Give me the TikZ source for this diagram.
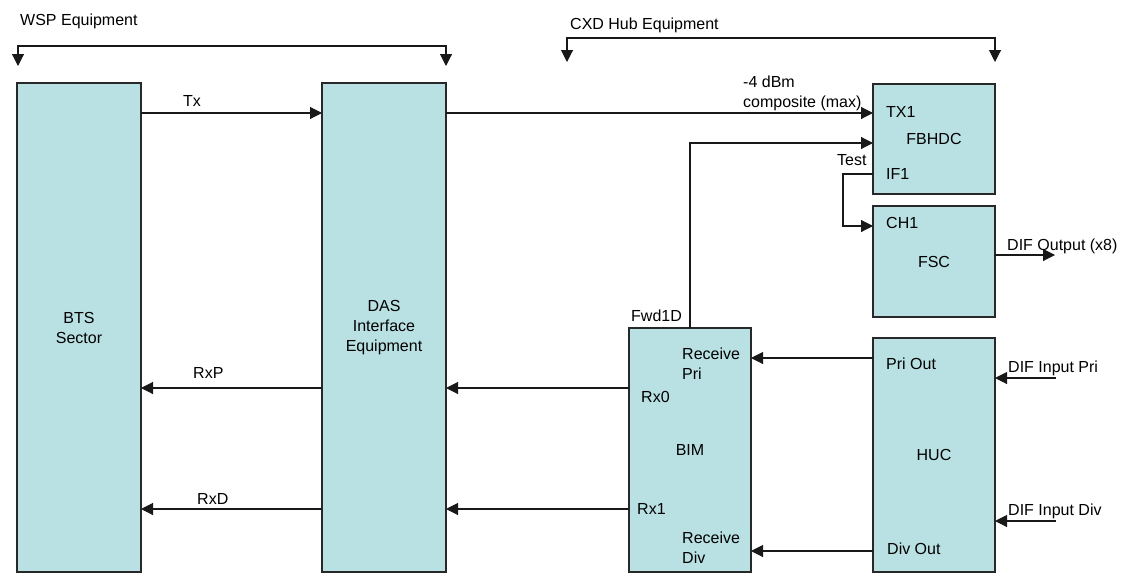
\documentclass[tikz,border=0pt]{standalone}
\usepackage{fontspec}
\setmainfont{Liberation Sans}
\usetikzlibrary{arrows.meta}
\definecolor{boxfill}{RGB}{185,224,227}
\definecolor{boxline}{RGB}{40,40,40}
\definecolor{wire}{RGB}{25,25,25}
\begin{document}
\begin{tikzpicture}[x=1pt,y=-1pt,
  font=\fontsize{16}{20}\selectfont,
  box/.style={draw=boxline, fill=boxfill, line width=1.1pt, inner sep=0pt, outer sep=0pt, anchor=north west, align=center},
  arr/.style={line width=1.1pt, draw=wire, -{Triangle[length=12pt,width=12pt]}},
  brk/.style={line width=1.1pt, draw=wire, {Triangle[length=12pt,width=12pt]}-{Triangle[length=12pt,width=12pt]}},
  lbl/.style={anchor=base west, inner sep=0pt, align=left}]
\useasboundingbox (0,0) rectangle (1138,573);

% boxes
\node[box, minimum width=124pt, minimum height=489pt] (bts) at (17,83) {BTS\\Sector};
\node[box, minimum width=124pt, minimum height=489pt] (das) at (322,83) {DAS\\Interface\\Equipment};
\node[box, minimum width=122pt, minimum height=110pt] (fbhdc) at (873,84) {FBHDC};
\node[box, minimum width=122pt, minimum height=111pt] (fsc) at (873,206) {FSC};
\node[box, minimum width=122pt, minimum height=244pt] (bim) at (629,328) {BIM};
\node[box, minimum width=122pt, minimum height=234pt] (huc) at (873,338) {HUC};

% level coordinates
\coordinate (yTx) at (0,113);
\coordinate (yFwd) at (0,143);
\coordinate (yIF) at (843,174);
\coordinate (yCH) at (0,226);
\coordinate (yOut) at (0,255);
\coordinate (difout) at (1055,255);
\coordinate (yPri) at (0,358);
\coordinate (yDiv) at (0,551);
\coordinate (yRx0) at (0,388);
\coordinate (yRx1) at (0,509);
\coordinate (dinpri) at (1056,378);
\coordinate (dindiv) at (1056,521);

% bracket arrows
\coordinate (wspL) at (18,66);
\coordinate (wspR) at (446,66);
\coordinate (cxdL) at (567,62);
\coordinate (cxdR) at (995,62);
\draw[brk] (wspL) |- (446,46) -- (wspR);
\draw[brk] (cxdL) |- (995,38) -- (cxdR);
\node[lbl] (wsp) at (20,25) {WSP Equipment};
\node[lbl] (cxd) at (570,29) {CXD Hub Equipment};

% forward path
\draw[arr] (bts.east |- yTx) -- (das.west |- yTx);
\node[lbl] (txl) at (183,106) {Tx};
\draw[arr] (das.east |- yTx) -- (fbhdc.west |- yTx);
\node[lbl] (dbm) at (743,107) {-4 dBm\\composite (max)};
\draw[arr] (bim.north) |- (fbhdc.west |- yFwd);
\node[lbl] (fwd) at (631,321) {Fwd1D};
\draw[arr] (fbhdc.west |- yIF) -- (yIF) |- (fsc.west |- yCH);
\node[lbl] (test) at (837,165) {Test};
\draw[arr] (fsc.east |- yOut) -- (difout);
\node[lbl] (difo) at (1007,250) {DIF Output (x8)};

% port labels
\node[lbl] (tx1) at (886,117) {TX1};
\node[lbl] (if1) at (886,179) {IF1};
\node[lbl] (ch1) at (886,228) {CH1};
\node[lbl] (rpri) at (682,379) {Receive\\Pri};
\node[lbl] (rx0) at (641,402) {Rx0};
\node[lbl] (rx1) at (637,514) {Rx1};
\node[lbl] (rdiv) at (682,563) {Receive\\Div};
\node[lbl] (priout) at (886,369) {Pri Out};
\node[lbl] (divout) at (887,554) {Div Out};

% reverse path
\draw[arr] (huc.west |- yPri) -- (bim.east |- yPri);
\draw[arr] (huc.west |- yDiv) -- (bim.east |- yDiv);
\draw[arr] (bim.west |- yRx0) -- (das.east |- yRx0);
\draw[arr] (bim.west |- yRx1) -- (das.east |- yRx1);
\draw[arr] (das.west |- yRx0) -- (bts.east |- yRx0);
\draw[arr] (das.west |- yRx1) -- (bts.east |- yRx1);
\node[lbl] (rxp) at (193,378) {RxP};
\node[lbl] (rxd) at (197,504) {RxD};

% DIF inputs
\draw[arr] (dinpri) -- (huc.east |- dinpri);
\draw[arr] (dindiv) -- (huc.east |- dindiv);
\node[lbl] (dip) at (1008,372) {DIF Input Pri};
\node[lbl] (did) at (1008,515) {DIF Input Div};
\end{tikzpicture}
\end{document}
